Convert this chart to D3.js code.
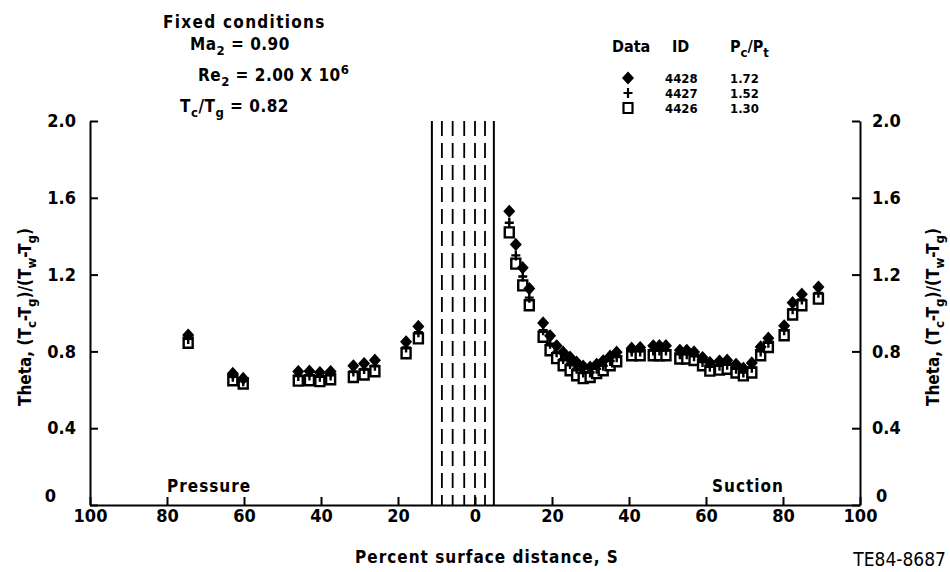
<!DOCTYPE html>
<html>
<head>
<meta charset="utf-8">
<script src="https://cdn.jsdelivr.net/npm/d3@7/dist/d3.min.js"></script>
<style>
  body { margin: 0; background: #fff; }
  svg text { font-family: "DejaVu Sans Condensed", "Liberation Sans Narrow", sans-serif; font-stretch: condensed; font-weight: bold; fill: #000; }
  .axis path, .axis line { stroke: #000; stroke-width: 2; }
  .axis text { font-size: 18px; }
</style>
</head>
<body>
<svg id="chart" width="950" height="572"></svg>
<script>
// percent surface distance, pressure side negative, suction side positive
var positions = [-74.5, -62.9, -60.2, -45.9, -43.0, -40.3, -37.5, -31.6, -28.8, -26.0, -17.9, -14.7,
    8.9, 10.6, 12.4, 14.1, 17.7, 19.5, 21.2, 22.9, 24.7, 26.4, 28.1, 29.9, 31.6, 33.3, 35.1, 36.8,
    40.7, 42.9, 46.3, 47.9, 49.6, 53.2, 55.0, 56.9, 59.1, 61.0, 63.5, 65.5, 67.8, 69.7, 71.9,
    74.2, 76.2, 80.3, 82.5, 84.9, 89.2];

// Theta for each run
var theta4428 = [0.885, 0.685, 0.659, 0.695, 0.697, 0.690, 0.695, 0.725, 0.737, 0.754, 0.850, 0.930,
    1.530, 1.357, 1.236, 1.127, 0.948, 0.881, 0.829, 0.796, 0.770, 0.744, 0.723, 0.718, 0.733, 0.751, 0.775, 0.796,
    0.817, 0.820, 0.829, 0.830, 0.830, 0.806, 0.806, 0.797, 0.768, 0.742, 0.750, 0.754, 0.733, 0.712, 0.740,
    0.823, 0.869, 0.933, 1.054, 1.098, 1.135];
var theta4427 = [0.865, 0.668, 0.645, 0.672, 0.675, 0.668, 0.675, 0.695, 0.708, 0.725, 0.820, 0.900,
    1.470, 1.300, 1.190, 1.080, 0.910, 0.840, 0.795, 0.760, 0.735, 0.710, 0.690, 0.690, 0.710, 0.725, 0.750, 0.770,
    0.800, 0.800, 0.805, 0.805, 0.805, 0.785, 0.785, 0.775, 0.745, 0.720, 0.725, 0.730, 0.710, 0.690, 0.715,
    0.800, 0.845, 0.910, 1.020, 1.070, 1.105];
var theta4426 = [0.845, 0.650, 0.633, 0.648, 0.650, 0.645, 0.655, 0.667, 0.680, 0.697, 0.790, 0.868,
    1.420, 1.257, 1.144, 1.040, 0.876, 0.806, 0.765, 0.728, 0.702, 0.676, 0.661, 0.667, 0.687, 0.702, 0.728, 0.749,
    0.780, 0.780, 0.780, 0.780, 0.780, 0.763, 0.763, 0.755, 0.728, 0.700, 0.705, 0.710, 0.690, 0.675, 0.690,
    0.780, 0.823, 0.884, 0.992, 1.040, 1.075];

var runIds = ["4428", "4427", "4426"];
var pressureRatios = ["1.72", "1.52", "1.30"];
var runSymbols = ["diamond", "plus", "square"];

// film cooling hole rows around the leading edge
var holeRows = [-11.2, -8.6, -5.8, -2.8, 0, 2.6, 4.9];

var xTicks = [-100, -80, -60, -40, -20, 0, 20, 40, 60, 80, 100];
var yTicks = [0, 0.4, 0.8, 1.2, 1.6, 2.0];

var svg = d3.select("#chart");
var x = d3.scaleLinear().domain([-100, 100]).range([90, 860]);
var y = d3.scaleLinear().domain([0, 2]).range([505, 121]);

// hole row lines
svg.append("g").selectAll("line")
    .data(holeRows)
    .enter().append("line")
    .attr("x1", function(d) { return x(d); })
    .attr("x2", function(d) { return x(d); })
    .attr("y1", y(2)).attr("y2", y(0))
    .attr("stroke", "#000")
    .attr("stroke-width", function(d, i) { return (i == 0 || i == holeRows.length - 1) ? 2 : 1.8; })
    .attr("stroke-dasharray", function(d, i) { return (i == 0 || i == holeRows.length - 1) ? null : "15,7"; });

// axes
function yFormat(d) { return d == 0 ? "0" : d3.format(".1f")(d); }

svg.append("g").attr("class", "axis")
    .attr("transform", "translate(0," + y(0) + ")")
    .call(d3.axisBottom(x).tickValues(xTicks).tickSizeInner(-8).tickSizeOuter(0).tickPadding(4)
        .tickFormat(function(d) { return Math.abs(d); }));

var leftAxis = svg.append("g").attr("class", "axis")
    .attr("transform", "translate(" + x(-100) + ",0)")
    .call(d3.axisLeft(y).tickValues(yTicks).tickSizeInner(-8).tickSizeOuter(0).tickPadding(14).tickFormat(yFormat));

var rightAxis = svg.append("g").attr("class", "axis")
    .attr("transform", "translate(" + x(100) + ",0)")
    .call(d3.axisRight(y).tickValues(yTicks).tickSizeInner(-8).tickSizeOuter(0).tickPadding(12).tickFormat(yFormat));

// the zero labels sit raised beside the 100 labels
leftAxis.selectAll(".tick text").filter(function(d) { return d == 0; })
    .attr("x", -34).attr("dy", "-0.2em");
rightAxis.selectAll(".tick text").filter(function(d) { return d == 0; })
    .attr("x", 16).attr("dy", "-0.2em");

// markers
function symbolPath(kind) {
    if (kind == "diamond") return "M0,-5.5L5,0L0,5.5L-5,0Z";
    if (kind == "plus") return "M-4.5,0H4.5M0,-5V5";
    return "M-4.5,-5H4.5V5H-4.5Z";
}

var runs = [theta4426, theta4427, theta4428];
var runKinds = ["square", "plus", "diamond"];
runs.forEach(function(vals, k) {
    svg.append("g").selectAll("path")
        .data(vals)
        .enter().append("path")
        .attr("transform", function(d, i) { return "translate(" + x(positions[i]) + "," + y(d) + ")"; })
        .attr("d", symbolPath(runKinds[k]))
        .attr("fill", runKinds[k] == "diamond" ? "#000" : "#fff")
        .attr("stroke", "#000")
        .attr("stroke-width", runKinds[k] == "diamond" ? 1.5 : 2.4);
});

// axis titles
svg.append("text")
    .attr("x", 487).attr("y", 563)
    .attr("text-anchor", "middle")
    .style("font-size", "17px")
    .style("letter-spacing", "1px")
    .text("Percent surface distance, S");

svg.append("text")
    .attr("x", 946).attr("y", 566)
    .attr("text-anchor", "end")
    .style("font-size", "19px")
    .style("font-weight", "normal")
    .text("TE84-8687");

function thetaLabel(g) {
    var t = g.append("text").attr("text-anchor", "middle").style("font-size", "17px");
    var parts = [["Theta,  (T", 0], ["c", 1], ["-T", 0], ["g", 1], [")/(T", 0], ["w", 1], ["-T", 0], ["g", 1], [")", 0]];
    var prev = 0;
    parts.forEach(function(p) {
        var dy = p[1] ? 5 : 0;
        t.append("tspan").attr("dy", dy - prev).style("font-size", p[1] ? "13px" : "17px").text(p[0]);
        prev = dy;
    });
}
thetaLabel(svg.append("g").attr("transform", "translate(31,317) rotate(-90)"));
thetaLabel(svg.append("g").attr("transform", "translate(939,317) rotate(-90)"));

svg.append("text").attr("x", 167).attr("y", 492).style("font-size", "17px").style("letter-spacing", "1px").text("Pressure");
svg.append("text").attr("x", 712).attr("y", 492).style("font-size", "17px").style("letter-spacing", "1px").text("Suction");

// fixed conditions
svg.append("text").attr("x", 163).attr("y", 28).style("font-size", "17px").style("letter-spacing", "1.3px").text("Fixed conditions");

var ma = svg.append("text").attr("x", 190).attr("y", 50).style("font-size", "17px").style("letter-spacing", "0.5px");
ma.append("tspan").text("Ma");
ma.append("tspan").attr("dy", 5).style("font-size", "13px").text("2");
ma.append("tspan").attr("dy", -5).text(" = 0.90");

var re = svg.append("text").attr("x", 198).attr("y", 81).style("font-size", "17px").style("letter-spacing", "0.5px");
re.append("tspan").text("Re");
re.append("tspan").attr("dy", 5).style("font-size", "13px").text("2");
re.append("tspan").attr("dy", -5).text(" = 2.00 X 10");
re.append("tspan").attr("dy", -7).style("font-size", "13px").text("6");

var tc = svg.append("text").attr("x", 180).attr("y", 112).style("font-size", "17px").style("letter-spacing", "0.5px");
tc.append("tspan").text("T");
tc.append("tspan").attr("dy", 5).style("font-size", "13px").text("c");
tc.append("tspan").attr("dy", -5).text("/T");
tc.append("tspan").attr("dy", 5).style("font-size", "13px").text("g");
tc.append("tspan").attr("dy", -5).text(" = 0.82");

// legend
var legend = svg.append("g");
legend.append("text").attr("x", 612).attr("y", 52).style("font-size", "16px").text("Data");
legend.append("text").attr("x", 672).attr("y", 52).style("font-size", "16px").text("ID");
var pc = legend.append("text").attr("x", 730).attr("y", 52).style("font-size", "16px");
pc.append("tspan").text("P");
pc.append("tspan").attr("dy", 5).style("font-size", "13px").text("c");
pc.append("tspan").attr("dy", -5).text("/P");
pc.append("tspan").attr("dy", 5).style("font-size", "13px").text("t");

runIds.forEach(function(id, i) {
    var yy = 78 + i * 15;
    legend.append("path")
        .attr("transform", "translate(628," + yy + ")")
        .attr("d", symbolPath(runSymbols[i]))
        .attr("fill", runSymbols[i] == "diamond" ? "#000" : "#fff")
        .attr("stroke", "#000")
        .attr("stroke-width", runSymbols[i] == "diamond" ? 1.5 : 2.2);
    legend.append("text").attr("x", 665).attr("y", yy + 5).style("font-size", "13px").text(id);
    legend.append("text").attr("x", 730).attr("y", yy + 5).style("font-size", "13px").text(pressureRatios[i]);
});
</script>
</body>
</html>
